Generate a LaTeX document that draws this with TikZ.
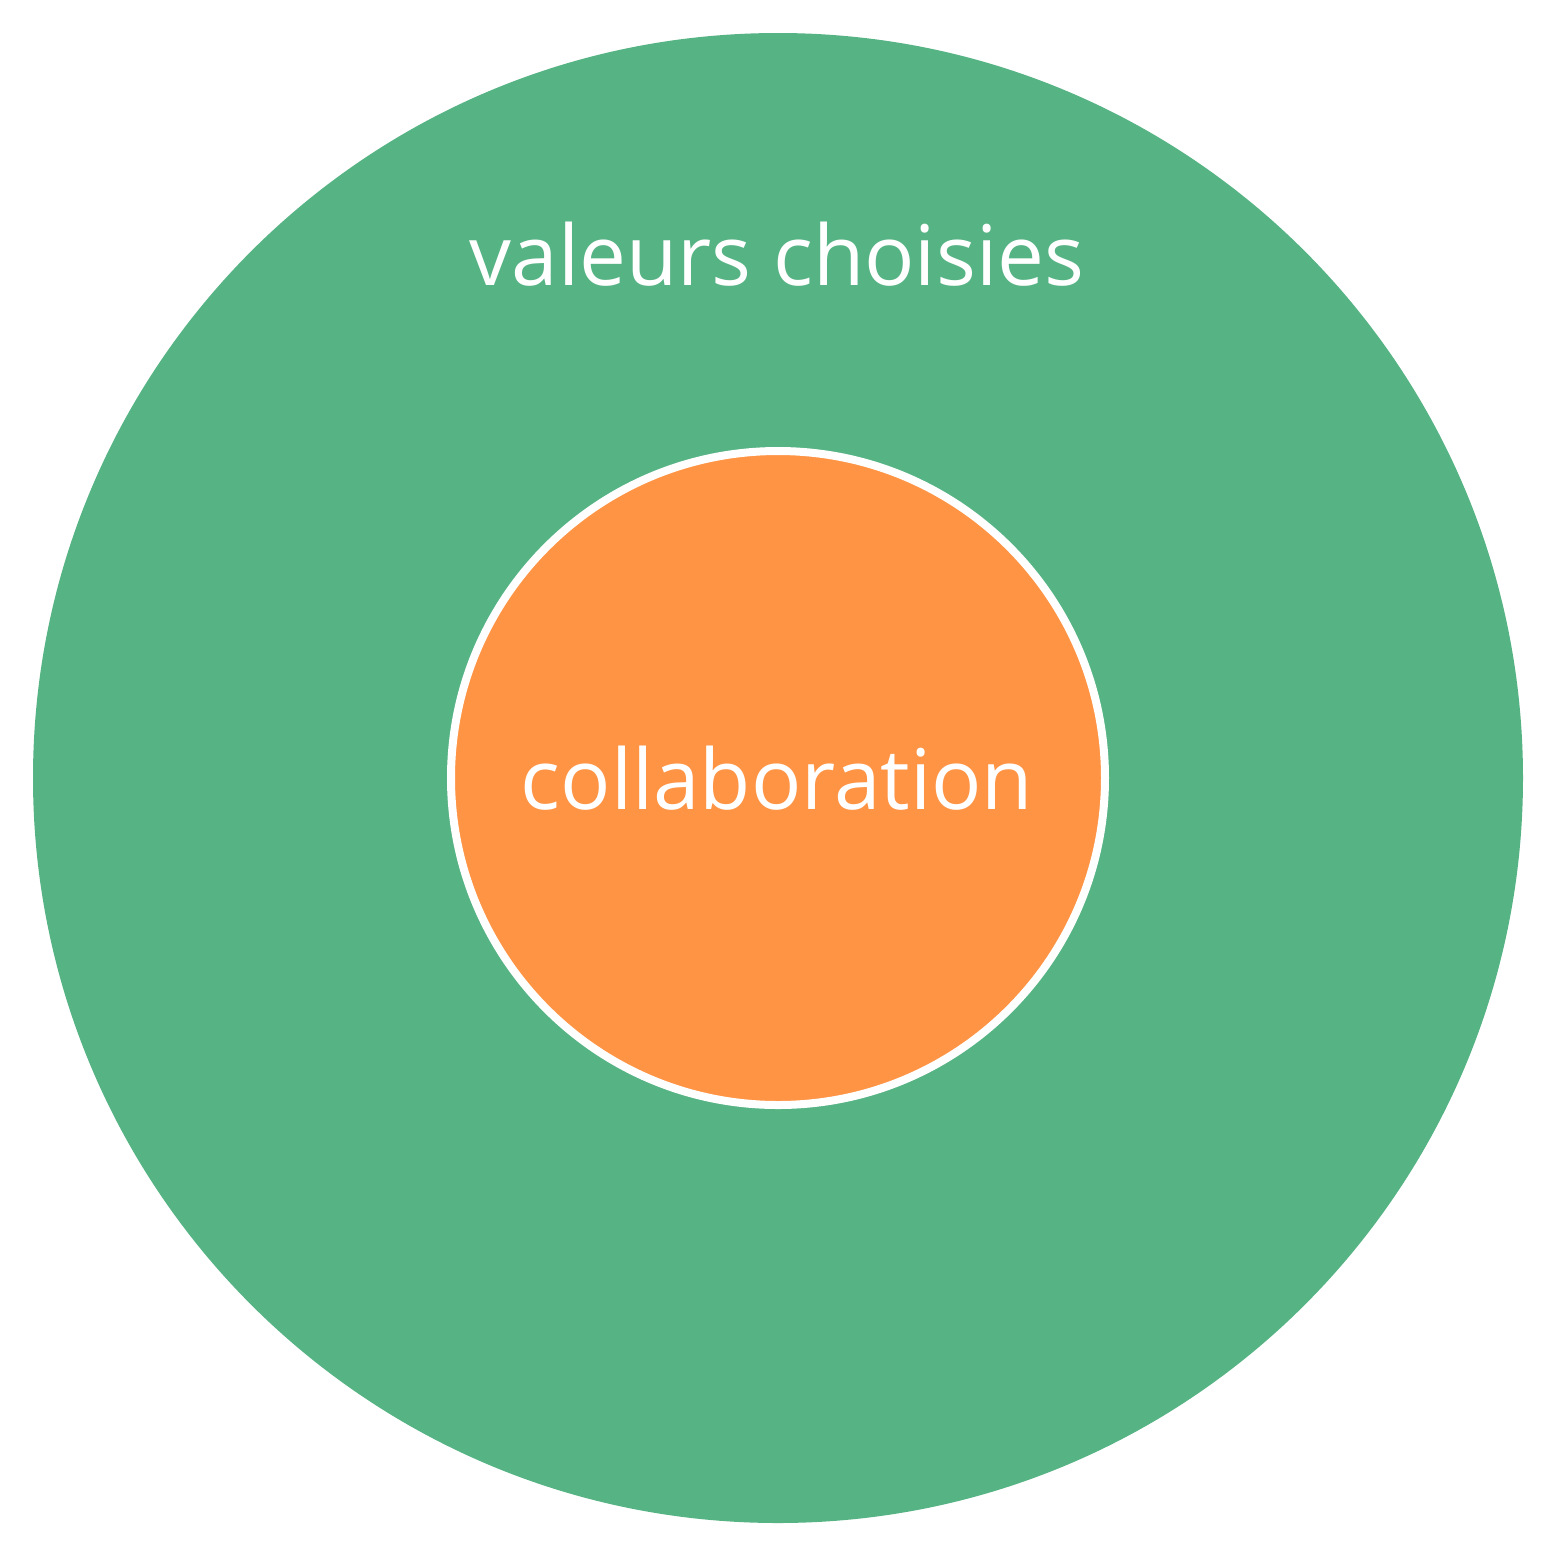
\documentclass[tikz,border=0pt]{standalone}
\usepackage{fontspec}
\setmainfont{Open Sans}
\definecolor{outergreen}{HTML}{56B384}
\definecolor{innerorange}{HTML}{FF9445}
\begin{document}
\begin{tikzpicture}[x=0.5pt,y=-0.5pt,
  label/.style={text=white,font=\fontsize{41.8pt}{50pt}\selectfont,inner sep=0pt,anchor=base}]
\useasboundingbox (0,0) rectangle (1555,1555);
% outer ring: chosen values
\fill[outergreen] (778,778) circle[radius=745];
% inner disc: collaboration
\filldraw[fill=innerorange,draw=white,line width=4pt] (778,778) circle[radius=327];
\node[label] (outer) at (777,285) {valeurs choisies};
\node[label] (inner) at (777,809) {collaboration};
\end{tikzpicture}
\end{document}
